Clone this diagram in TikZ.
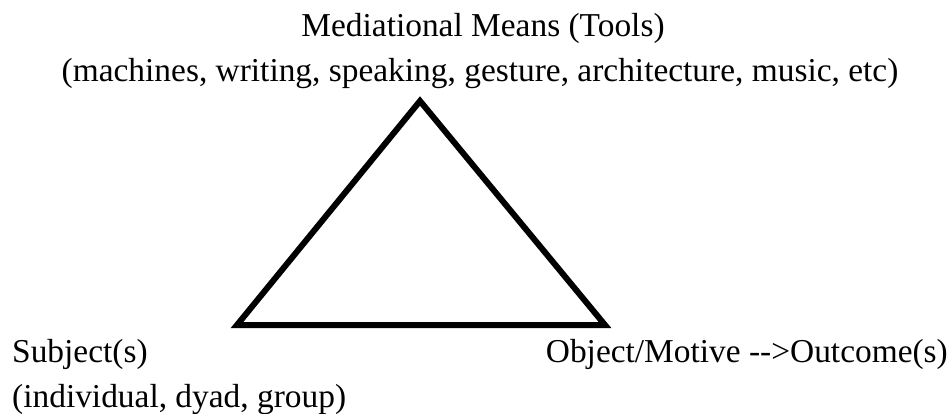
\documentclass[tikz,border=0pt]{standalone}
\usepackage{fontspec}
\setmainfont{Liberation Serif}
\usepackage{tikz}

\tikzset{lbl/.style={font=\fontsize{33.4}{40}\selectfont, inner sep=0pt}}

\begin{document}
\begin{tikzpicture}[x=1pt, y=-1pt]
	\useasboundingbox (0,0) rectangle (949,414);
	
	\node[lbl, anchor=base] (tools) at (483, 37) {Mediational Means (Tools)};
	\node[lbl, anchor=base] (toolsx) at (480, 82) {(machines, writing, speaking, gesture, architecture, music, etc)};
	
	\node[lbl, anchor=base west] (subj) at (12, 362) {Subject(s)};
	\node[lbl, anchor=base west] (subjx) at (12, 407) {(individual, dyad, group)};
	
	\node[lbl, anchor=base east] (obj) at (948, 362) {Object/Motive \mbox{-}\mbox{-}>Outcome(s)};
	
	\coordinate (top) at (420, 101);
	\coordinate (left) at (237, 325);
	\coordinate (right) at (605, 325);
	\draw[line width=6pt] (top) -- (left) -- (right) -- cycle;
\end{tikzpicture}
\end{document}
